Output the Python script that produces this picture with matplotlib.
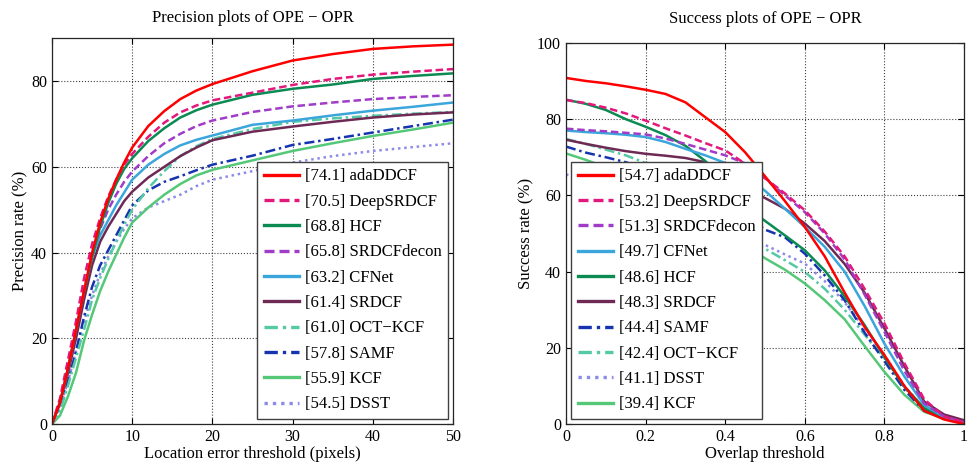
import matplotlib
matplotlib.use('Agg')
import matplotlib.pyplot as plt

plt.rcParams['font.family'] = ['Liberation Serif', 'DejaVu Serif']

# precision plot data (location error threshold, precision %)
prec_x = [0, 1, 2, 3, 4, 5, 6, 7, 8, 9, 10, 12, 14, 16, 18, 20, 25, 30, 35, 40, 45, 50]
prec_adaDDCF = [0, 5, 13, 22, 31, 40, 47, 52.5, 57, 61, 64.5, 69.5, 73, 75.8, 77.8, 79.3, 82.3, 84.8, 86.3, 87.5, 88.1, 88.5]
prec_DeepSRDCF = [0, 6, 15, 24, 34, 42, 48, 53, 57, 60.5, 63, 67, 70.3, 72.7, 74.3, 75.5, 77.3, 79.1, 80.5, 81.5, 82.2, 82.8]
prec_HCF = [0, 5, 13, 22, 31, 39, 46, 51.5, 56, 59.5, 62, 66, 69, 71.5, 73.2, 74.5, 76.8, 78.2, 79.2, 80.5, 81.2, 81.8]
prec_SRDCFdecon = [0, 5, 13, 22, 31, 40, 45.5, 50, 53.5, 56.5, 58.9, 62.5, 65.5, 67.7, 69.5, 70.8, 72.8, 74.1, 75.0, 75.8, 76.3, 76.7]
prec_CFNet = [0, 5, 13, 22, 31, 39, 44, 47.5, 51, 54, 57, 60.5, 63, 65, 66.3, 67.3, 69.8, 70.8, 72, 73.1, 74, 75.0]
prec_SRDCF = [0, 5, 12, 20, 29, 37, 42.5, 46, 49, 52, 54.2, 57.5, 60, 62.5, 64.5, 66.2, 68.2, 69.4, 70.5, 71.5, 72.2, 72.7]
prec_OCTKCF = [0, 3, 9, 15.5, 22, 29, 34, 38.5, 42.5, 46.5, 50, 55, 59, 62.5, 64.8, 66.5, 68.8, 70.5, 71.3, 71.9, 72.4, 72.8]
prec_SAMF = [0, 4, 10, 17, 25, 32, 37, 40.5, 44, 47.5, 51, 54.5, 56.5, 57.8, 59.2, 60.5, 62.6, 65.1, 66.5, 68.0, 69.5, 71.0]
prec_KCF = [0, 2, 6.5, 12, 19.5, 25.5, 31, 35.5, 39.5, 43.5, 47, 50.5, 53.5, 56, 58, 59.3, 61.5, 63.7, 65.5, 67.2, 68.7, 70.3]
prec_DSST = [0, 4, 10, 17, 24, 30, 35, 39, 42.5, 45.5, 48, 50.5, 52, 53.5, 55.5, 57, 59, 61, 62.5, 63.7, 64.6, 65.5]

# success plot data (overlap threshold, success %)
succ_x = [0, 0.05, 0.1, 0.15, 0.2, 0.25, 0.3, 0.35, 0.4, 0.45, 0.5, 0.55, 0.6, 0.65, 0.7, 0.75, 0.8, 0.85, 0.9, 0.95, 1.0]
succ_adaDDCF = [90.8, 90.0, 89.4, 88.6, 87.7, 86.6, 84.4, 80.5, 76.6, 71.3, 65.0, 58.5, 51.7, 44.0, 34.5, 25.5, 18.1, 10.0, 3.5, 1.2, 0.0]
succ_DeepSRDCF = [85.0, 84.2, 83.0, 81.5, 79.6, 77.6, 75.7, 73.7, 71.8, 68.3, 64.5, 60.5, 56.1, 50.5, 44.0, 35.5, 26.4, 16.0, 6.5, 2.0, 0.5]
succ_SRDCFdecon = [77.5, 77.1, 76.8, 76.4, 76.0, 74.9, 73.5, 72.0, 70.5, 68.4, 64.5, 60.0, 55.6, 50.0, 43.2, 34.0, 24.2, 14.0, 5.4, 2.0, 0.5]
succ_CFNet = [77.0, 76.6, 76.3, 75.9, 75.3, 74.0, 72.2, 70.5, 68.5, 65.5, 61.2, 56.5, 51.7, 46.5, 40.0, 31.0, 21.1, 12.5, 5.0, 1.8, 0.3]
succ_HCF = [85.1, 84.0, 82.4, 80.0, 78.0, 75.8, 73.0, 69.0, 63.3, 57.2, 53.3, 49.5, 45.6, 40.3, 33.5, 26.0, 17.6, 9.8, 4.2, 1.6, 0.3]
succ_SRDCF = [74.6, 73.5, 72.5, 71.6, 70.9, 70.4, 69.8, 68.7, 66.5, 61.5, 59.3, 56.5, 52.6, 48.0, 42.0, 34.5, 25.1, 15.2, 5.9, 2.5, 1.0]
succ_SAMF = [72.8, 71.2, 70.0, 68.7, 67.0, 65.5, 64.0, 62.0, 59.5, 55.0, 51.0, 49.0, 44.7, 39.0, 32.5, 24.0, 16.5, 9.0, 3.5, 1.5, 0.2]
succ_OCTKCF = [74.8, 73.5, 72.0, 70.5, 68.5, 66.0, 63.5, 58.0, 52.5, 48.5, 46.0, 43.0, 39.9, 35.5, 30.0, 23.5, 17.2, 9.5, 4.0, 1.8, 0.3]
succ_DSST = [65.5, 64.0, 62.5, 61.0, 59.0, 57.5, 56.0, 54.0, 52.0, 49.5, 47.0, 44.5, 42.1, 37.5, 32.0, 25.0, 18.1, 10.0, 4.2, 1.6, 0.3]
succ_KCF = [71.0, 69.3, 67.4, 66.0, 63.5, 61.5, 59.0, 55.5, 51.5, 47.0, 43.5, 40.5, 36.9, 32.5, 27.5, 20.5, 13.7, 7.7, 3.2, 1.5, 0.5]

# line styles per tracker
styles = {
    'adaDDCF': dict(color='#ff0000', ls='-'),
    'DeepSRDCF': dict(color='#e2187c', ls=(0, (3, 1.5))),
    'HCF': dict(color='#0b8a52', ls='-'),
    'SRDCFdecon': dict(color='#a03cc8', ls=(0, (3, 1.5))),
    'CFNet': dict(color='#3aa6dc', ls='-'),
    'SRDCF': dict(color='#6e2a55', ls='-'),
    'OCT\u2212KCF': dict(color='#55c8a5', ls=(0, (4, 1.5, 1, 1.5))),
    'SAMF': dict(color='#1634b0', ls=(0, (4, 1.5, 1, 1.5))),
    'KCF': dict(color='#55c878', ls='-'),
    'DSST': dict(color='#8c8ce8', ls=(0, (1, 1.5))),
}

prec_series = [
    ('adaDDCF', '74.1', prec_adaDDCF),
    ('DeepSRDCF', '70.5', prec_DeepSRDCF),
    ('HCF', '68.8', prec_HCF),
    ('SRDCFdecon', '65.8', prec_SRDCFdecon),
    ('CFNet', '63.2', prec_CFNet),
    ('SRDCF', '61.4', prec_SRDCF),
    ('OCT\u2212KCF', '61.0', prec_OCTKCF),
    ('SAMF', '57.8', prec_SAMF),
    ('KCF', '55.9', prec_KCF),
    ('DSST', '54.5', prec_DSST),
]

succ_series = [
    ('adaDDCF', '54.7', succ_adaDDCF),
    ('DeepSRDCF', '53.2', succ_DeepSRDCF),
    ('SRDCFdecon', '51.3', succ_SRDCFdecon),
    ('CFNet', '49.7', succ_CFNet),
    ('HCF', '48.6', succ_HCF),
    ('SRDCF', '48.3', succ_SRDCF),
    ('SAMF', '44.4', succ_SAMF),
    ('OCT\u2212KCF', '42.4', succ_OCTKCF),
    ('DSST', '41.1', succ_DSST),
    ('KCF', '39.4', succ_KCF),
]

fig = plt.figure(figsize=(9.68, 4.66), dpi=100)
ax1 = fig.add_axes([0.0537, 0.090, 0.4143, 0.828])
ax2 = fig.add_axes([0.5847, 0.090, 0.4112, 0.818])


def style_axes(ax):
    ax.grid(True, ls=':', color='0.25', lw=0.8)
    ax.tick_params(direction='in', labelsize=11.5, length=4, top=True, right=True)
    for sp in ax.spines.values():
        sp.set_linewidth(0.9)
        sp.set_color('0.15')


def add_legend(ax, loc, anchor):
    h, l = ax.get_legend_handles_labels()
    leg = ax.legend(h[::-1], l[::-1], loc=loc, bbox_to_anchor=anchor, borderaxespad=0,
                    fontsize=12, handlelength=2.1, labelspacing=0.56, handletextpad=0.35,
                    borderpad=0.4, fancybox=False, framealpha=1, edgecolor='0.25')
    leg.get_frame().set_linewidth(1.0)
    for line in leg.get_lines():
        line.set_linewidth(2.4)
    return leg


for name, score, vals in prec_series[::-1]:
    st = styles[name]
    ax1.plot(prec_x, vals, color=st['color'], linestyle=st['ls'], lw=1.8,
             label=f'[{score}] {name}')
ax1.set_xlim(0, 50)
ax1.set_ylim(0, 90)
ax1.set_xticks([0, 10, 20, 30, 40, 50])
ax1.set_yticks([0, 20, 40, 60, 80])
style_axes(ax1)
ax1.set_title('Precision plots of OPE \u2212 OPR', fontsize=12, pad=12)
ax1.set_xlabel('Location error threshold (pixels)', fontsize=12, labelpad=1)
ax1.set_ylabel('Precision rate (%)', fontsize=12, labelpad=2)
add_legend(ax1, 'lower right', (0.988, 0.013))

for name, score, vals in succ_series[::-1]:
    st = styles[name]
    ax2.plot(succ_x, vals, color=st['color'], linestyle=st['ls'], lw=1.8,
             label=f'[{score}] {name}')
ax2.set_xlim(0, 1)
ax2.set_ylim(0, 100)
ax2.set_xticks([0, 0.2, 0.4, 0.6, 0.8, 1])
ax2.set_xticklabels(['0', '0.2', '0.4', '0.6', '0.8', '1'])
ax2.set_yticks([0, 20, 40, 60, 80, 100])
style_axes(ax2)
ax2.set_title('Success plots of OPE \u2212 OPR', fontsize=12, pad=14)
ax2.set_xlabel('Overlap threshold', fontsize=12, labelpad=1)
ax2.set_ylabel('Success rate (%)', fontsize=12, labelpad=2)
add_legend(ax2, 'lower left', (0.0126, 0.013))

fig.savefig('out.png', dpi=100)
